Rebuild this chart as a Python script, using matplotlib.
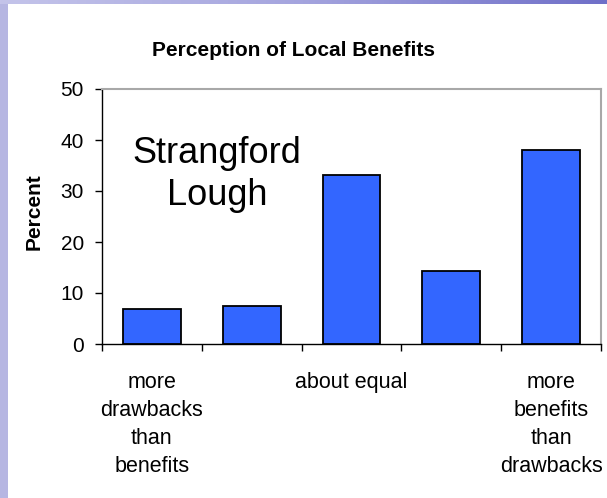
import matplotlib
matplotlib.use('Agg')
import matplotlib.pyplot as plt
import numpy as np

plt.rcParams['font.family'] = ['Liberation Sans', 'DejaVu Sans']

# data
categories = ['more\ndrawbacks\nthan\nbenefits', '', 'about equal', '',
              'more\nbenefits\nthan\ndrawbacks']
percent = [6.9, 7.5, 33.2, 14.3, 38.0]
y_ticks = [0, 10, 20, 30, 40, 50]

W, H = 607, 498
fig = plt.figure(figsize=(W / 100, H / 100), dpi=100)
fig.patch.set_facecolor('#b6b6e2')

# slide background: lavender strips on the left and top, white panel
grad = np.linspace(0, 1, 256).reshape(1, -1)
top = fig.add_axes([0, 1 - 4 / H, 1, 4 / H])
top.imshow(grad, aspect='auto', cmap=matplotlib.colors.LinearSegmentedColormap.from_list(
    'g', ['#c4c4ea', '#a4a4de', '#6f6fc8']))
top.axis('off')
panel = fig.add_axes([8 / W, 0, 1 - 8 / W, 1 - 4 / H], zorder=-5)
panel.set_facecolor('white')
panel.set_xticks([])
panel.set_yticks([])
for s in panel.spines.values():
    s.set_visible(False)

ax = fig.add_axes([102 / W, 154 / H, 499 / W, 255 / H])
ax.set_facecolor('none')
x = np.arange(len(percent))
ax.bar(x, percent, width=0.58, color='#3366ff', edgecolor='black', linewidth=1.3)

ax.set_xlim(-0.5, len(percent) - 0.5)
ax.set_ylim(0, 50)
ax.set_yticks(y_ticks)
ax.set_xticks(x)
ax.set_xticklabels(categories, fontsize=15.5, linespacing=1.45)
ax.set_xticks(np.arange(-0.5, len(percent)), minor=True)
ax.tick_params(axis='x', which='major', length=0, pad=20)
ax.tick_params(axis='x', which='minor', length=5, width=1, direction='out')
ax.tick_params(axis='y', length=5, width=1, direction='out', labelsize=15, pad=8)

for s in ['top', 'right']:
    ax.spines[s].set_color('#a8a8a8')
    ax.spines[s].set_linewidth(1.5)
for s in ['left', 'bottom']:
    ax.spines[s].set_color('black')
    ax.spines[s].set_linewidth(1)

ax.text(0.65, 33.3, 'Strangford\nLough', fontsize=26, ha='center', va='center',
        linespacing=1.27)

fig.text(294 / W, 1 - 51 / H, 'Perception of Local Benefits', fontsize=15,
         fontweight='bold', ha='center', va='center')
fig.text(34 / W, 1 - 212 / H, 'Percent', fontsize=15, fontweight='bold',
         rotation=90, ha='center', va='center')

fig.savefig('out.png', dpi=100)
